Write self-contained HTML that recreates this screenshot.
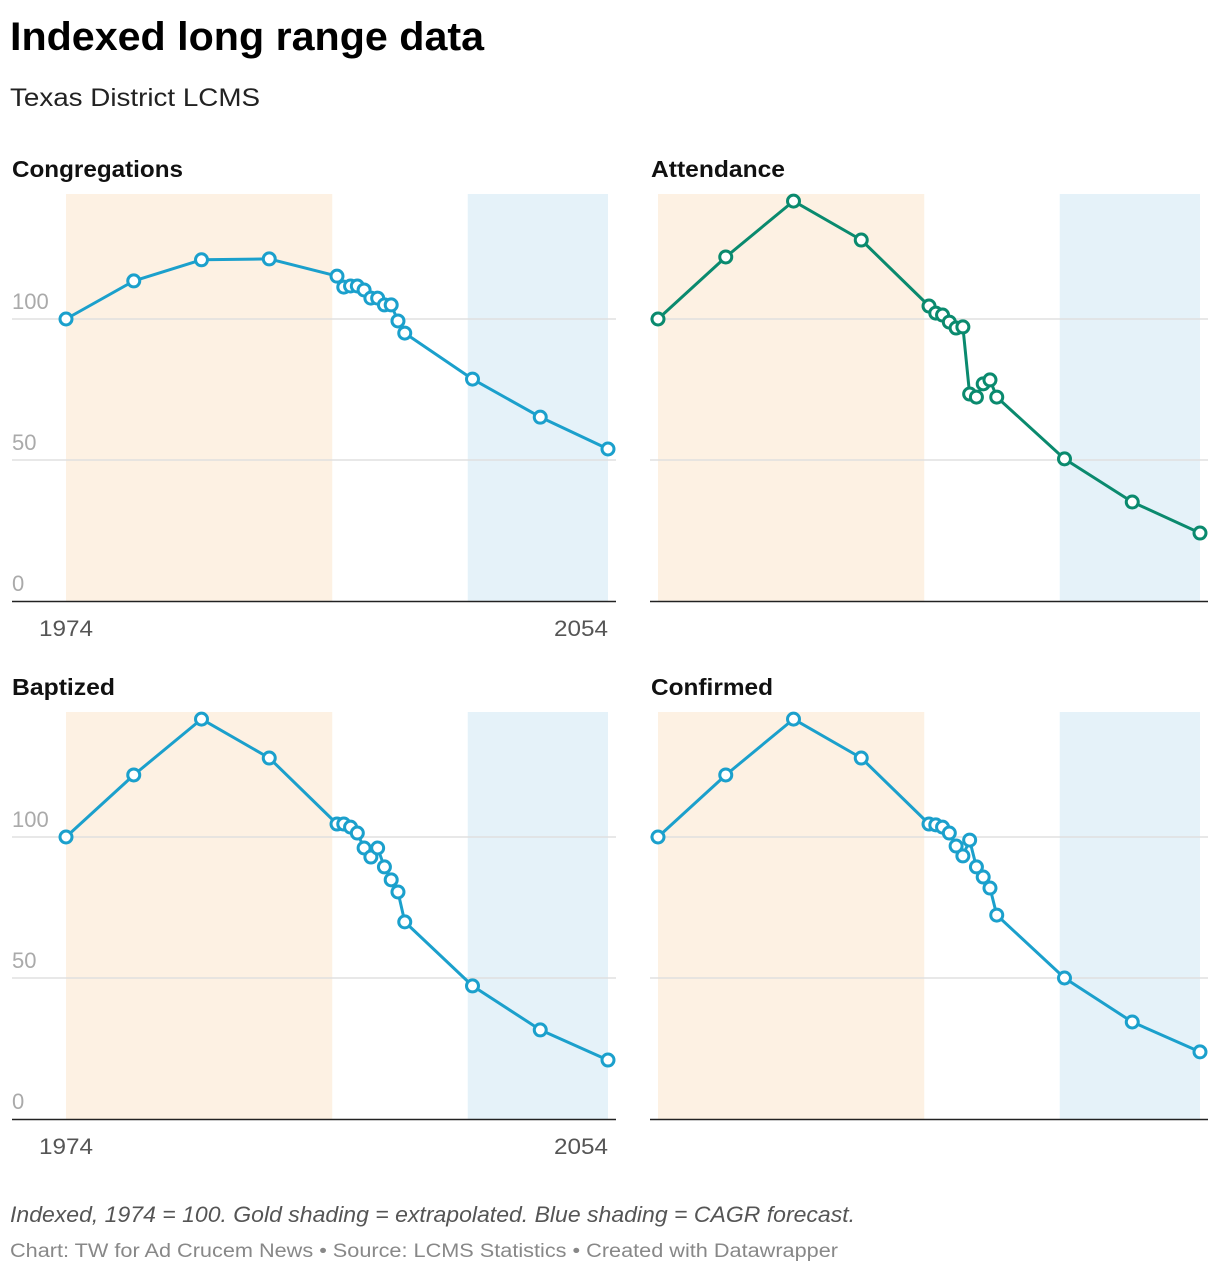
<!DOCTYPE html>
<html><head><meta charset="utf-8"><style>
body{margin:0;background:#fff;width:1220px;height:1274px;overflow:hidden;font-family:"Liberation Sans",sans-serif}
svg{position:absolute;left:0;top:0}
</style></head><body>
<svg id="c" width="1220" height="1274" xmlns="http://www.w3.org/2000/svg">
<text x="10" y="50" font-size="40" font-weight="bold" fill="#000" textLength="474" lengthAdjust="spacingAndGlyphs">Indexed long range data</text>
<text x="10" y="106" font-size="25" fill="#222" textLength="250" lengthAdjust="spacingAndGlyphs">Texas District LCMS</text>
<text x="10" y="1222" font-size="22" font-style="italic" fill="#555" textLength="845" lengthAdjust="spacingAndGlyphs">Indexed, 1974 = 100. Gold shading = extrapolated. Blue shading = CAGR forecast.</text>
<text x="10" y="1257" font-size="19" fill="#888" textLength="828" lengthAdjust="spacingAndGlyphs">Chart: TW for Ad Crucem News • Source: LCMS Statistics • Created with Datawrapper</text>
</svg>
<script>
const years=[1974,1984,1994,2004,2014,2015,2016,2017,2018,2019,2020,2021,2022,2023,2024,2034,2044,2054];
const congregations=[100,113.5,121,121.3,115.2,111.3,111.7,111.7,110.3,107.4,107.4,105,105,99.3,95,78.7,65.2,53.9];
const attendance=[100,122,141.8,128,104.6,102.1,101.4,98.9,96.8,97.2,73.4,72.3,77,78.4,72.3,50.4,35.1,24.1];
const baptized=[100,122,141.8,128,104.6,104.6,103.5,101.4,96.1,92.9,96.1,89.4,84.8,80.5,69.9,47.2,31.6,20.9];
const confirmed=[100,122,141.8,128,104.6,104.3,103.5,101.4,96.8,93.3,98.9,89.4,85.8,81.9,72.3,50,34.4,23.8];
const yTicks=[0,50,100];
const goldRange=[1974,2013.3];
const blueRange=[2033.3,2054];
const panels=[
 {title:"Congregations",tl:171,data:congregations,color:"#1ba0cc",x0:66,x1:608,gl:12,gr:616,bottom:601,labels:true},
 {title:"Attendance",tl:134,data:attendance,color:"#0a8a6e",x0:658,x1:1200,gl:650,gr:1208,bottom:601,labels:false},
 {title:"Baptized",tl:103,data:baptized,color:"#1ba0cc",x0:66,x1:608,gl:12,gr:616,bottom:1119,labels:true},
 {title:"Confirmed",tl:122,data:confirmed,color:"#1ba0cc",x0:658,x1:1200,gl:650,gr:1208,bottom:1119,labels:false}];
const svg=document.getElementById('c');const NS="http://www.w3.org/2000/svg";
function mk(t,a,p){const e=document.createElementNS(NS,t);for(const k in a)e.setAttribute(k,a[k]);(p||svg).appendChild(e);return e;}
panels.forEach((P,pi)=>{
 const g=mk('g',{});
 
 
 const xs=y=>P.x0+(y-1974)/(2054-1974)*(P.x1-P.x0);
 const ys=v=>P.bottom-v*2.82;
 const top=P.bottom-407;
 const t=mk('text',{x:P.gl+(pi%2?1:0),y:top-17,'font-size':23,'font-weight':'bold',fill:'#111',textLength:P.tl,lengthAdjust:'spacingAndGlyphs'},g);t.textContent=P.title;
 
 
 const r1=mk('rect',{x:xs(goldRange[0]),y:top,width:xs(goldRange[1])-xs(goldRange[0]),height:407,fill:'#fdf1e3'},g);
 
 
 const r2=mk('rect',{x:xs(blueRange[0]),y:top,width:xs(blueRange[1])-xs(blueRange[0]),height:407,fill:'#e5f2f9'},g);
 
 
 yTicks.forEach(v=>{
  if(v>0){const l=mk('line',{x1:P.gl,x2:P.gr,y1:ys(v),y2:ys(v),stroke:'#e0e0e0','stroke-width':1.5},g);
   
   }
  if(P.labels){const tx=mk('text',{x:12,y:ys(v)-10,'font-size':22,fill:'#aaa'},g);tx.textContent=v;
   
   }
 });
 const ax=mk('line',{x1:P.gl,x2:P.gr,y1:P.bottom+0.5,y2:P.bottom+0.5,stroke:'#222','stroke-width':1.5},g);
 
 
 if(P.labels){
  const a=mk('text',{x:xs(1974),y:P.bottom+35,'font-size':22,fill:'#555','text-anchor':'middle',textLength:54,lengthAdjust:'spacingAndGlyphs'},g);a.textContent='1974';
  
  
  const b=mk('text',{x:xs(2054),y:P.bottom+35,'font-size':22,fill:'#555','text-anchor':'end',textLength:54,lengthAdjust:'spacingAndGlyphs'},g);b.textContent='2054';
  
  
 }
 const d=P.data.map((v,i)=>(i?'L':'M')+xs(years[i]).toFixed(1)+','+ys(v).toFixed(1)).join('');
 const ln=mk('path',{d:d,fill:'none',stroke:P.color,'stroke-width':3,'stroke-linejoin':'round'},g);
 
 
 P.data.forEach((v,i)=>{
  const c=mk('circle',{cx:xs(years[i]),cy:ys(v),r:6,fill:'#fff',stroke:P.color,'stroke-width':3},g);
  
  
 });
});
</script>
</body></html>
